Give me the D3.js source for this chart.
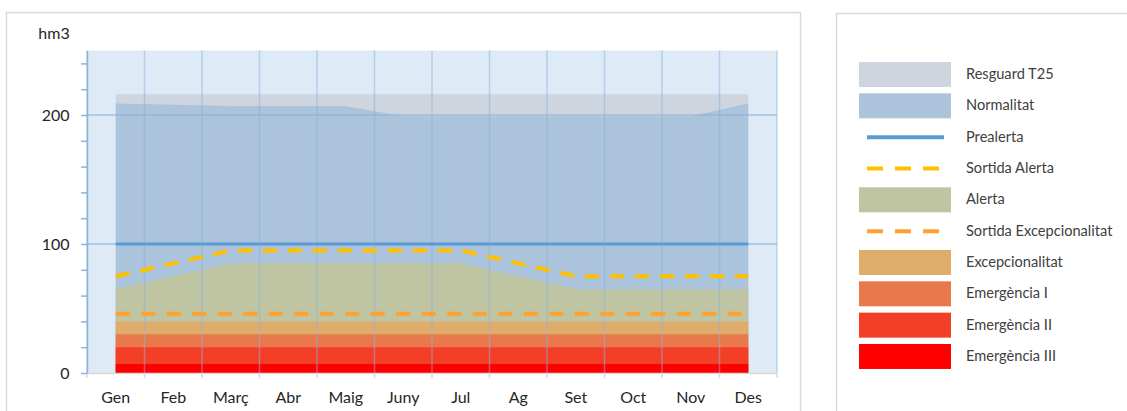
<!DOCTYPE html>
<html><head><meta charset="utf-8">
<script src="https://cdn.jsdelivr.net/npm/d3@7"></script>
<style>body{margin:0;background:#fff}svg{display:block}text{font-family:Lato,"Open Sans",sans-serif}</style>
</head><body><svg id="c" width="1127" height="411"></svg>
<script>
const months = ["Gen","Feb","Març","Abr","Maig","Juny","Jul","Ag","Set","Oct","Nov","Des"];
const resguardT25 = [216,216,216,216,216,216,216,216,216,216,216,216];
const normalitat = [209,208,207,207,207,199,199,199,199,199,199,209];
const prealerta = [100,100,100,100,100,100,100,100,100,100,100,100];
const sortidaAlerta = [75,85,95,95,95,95,95,85,75,75,75,75];
const alerta = [65,75,85,85,85,85,85,75,65,65,65,65];
const sortidaExcepcionalitat = [46,46,46,46,46,46,46,46,46,46,46,46];
const excepcionalitat = [40,40,40,40,40,40,40,40,40,40,40,40];
const emergenciaI = [30,30,30,30,30,30,30,30,30,30,30,30];
const emergenciaII = [20,20,20,20,20,20,20,20,20,20,20,20];
const emergenciaIII = [7,7,7,7,7,7,7,7,7,7,7,7];
const yLabelTicks = [0,100,200];
const yMinorTicks = [0,20,40,60,80,100,120,140,160,180,200,220,240];
const yMax = 250;

const svg = d3.select("#c");
// outer frames
svg.append("rect").attr("x",6.5).attr("y",12.5).attr("width",794).attr("height",430)
  .attr("fill","#fff").attr("stroke","#d9d9d9").attr("stroke-width",1.5);
svg.append("rect").attr("x",836.5).attr("y",13.5).attr("width",330).attr("height",430)
  .attr("fill","#fff").attr("stroke","#d9d9d9").attr("stroke-width",1.5);

const x = d3.scaleBand().domain(months).range([87,777]).padding(0);
const cx = m => x(m) + x.bandwidth()/2;
const y = d3.scaleLinear().domain([0,yMax]).range([373,50.5]);

const g = svg.append("g");
g.append("rect").attr("x",87).attr("y",y(yMax)).attr("width",777-87).attr("height",y(0)-y(yMax)).attr("fill","#deebf7");

const area = d3.area().x((d,i)=>cx(months[i])).y0(y(0)).y1(d=>y(d));
const line = d3.line().x((d,i)=>cx(months[i])).y(d=>y(d));

const areas = [
  [resguardT25,"#cfd5de"],
  [normalitat,"#abc3db"],
  [alerta,"#bfc4a3"],
  [excepcionalitat,"#dfad6b"],
  [emergenciaI,"#e9794c"],
  [emergenciaII,"#f43f27"],
  [emergenciaIII,"#ff0000"]
];
areas.forEach(([d,c])=>g.append("path").datum(d).attr("d",area).attr("fill",c));

// gridlines
const bounds = months.map(m=>x(m)).concat([x.range()[1]]);
g.selectAll(".vg").data(bounds).join("line").attr("class","vg")
  .attr("x1",d=>d).attr("x2",d=>d).attr("y1",y(yMax)).attr("y2",y(0))
  .attr("stroke","#8db3dc").attr("stroke-width",1.5).attr("opacity",0.5);
g.selectAll(".hg").data([100,200]).join("line").attr("class","hg")
  .attr("x1",87).attr("x2",777).attr("y1",d=>y(d)).attr("y2",d=>y(d))
  .attr("stroke","#8db3dc").attr("stroke-width",1.5).attr("opacity",0.75);

// lines
g.append("path").datum(prealerta).attr("d",line).attr("fill","none").attr("stroke","#5b9bd5").attr("stroke-width",3.2);
g.append("path").datum(sortidaAlerta).attr("d",line).attr("fill","none").attr("stroke","#ffc000").attr("stroke-width",4).attr("stroke-dasharray","14,11");
g.append("path").datum(sortidaExcepcionalitat).attr("d",line).attr("fill","none").attr("stroke","#ffa12e").attr("stroke-width",4).attr("stroke-dasharray","14,11.5");

// x axis line and ticks
g.append("line").attr("x1",87).attr("x2",777).attr("y1",y(0)+0.5).attr("y2",y(0)+0.5).attr("stroke","#d9d9d9").attr("stroke-width",1.5);
g.selectAll(".xt").data(bounds).join("line").attr("class","xt")
  .attr("x1",d=>d).attr("x2",d=>d).attr("y1",y(0)).attr("y2",y(0)+5)
  .attr("stroke","#d9d9d9").attr("stroke-width",1.5);
const xAxis = g.append("g").attr("transform",`translate(0,${y(0)})`)
  .call(d3.axisBottom(x).tickSize(0).tickPadding(18.6));
xAxis.select(".domain").remove();
xAxis.selectAll("text").attr("font-size",16).attr("fill","#262626").attr("font-family","Lato, 'Open Sans', sans-serif");

// y axis
const yAxis = g.append("g").attr("transform","translate(87,0)")
  .call(d3.axisLeft(y).tickValues(yMinorTicks).tickSize(6).tickSizeOuter(0).tickPadding(11.5)
    .tickFormat(d=>yLabelTicks.includes(d)?d:""));
yAxis.select(".domain").attr("stroke","#8db3dc").attr("stroke-width",1.5);
yAxis.selectAll("line").attr("stroke","#8db3dc").attr("stroke-width",1.5);
yAxis.selectAll("text").attr("font-size",16).attr("fill","#262626").attr("font-family","Lato, 'Open Sans', sans-serif");

svg.append("text").attr("x",54).attr("y",39).attr("text-anchor","middle")
  .attr("font-size",16).attr("fill","#262626").text("hm3");

// legend
const legendItems = [
  {name:"Resguard T25", type:"area", color:"#cfd5de"},
  {name:"Normalitat", type:"area", color:"#abc3db"},
  {name:"Prealerta", type:"line", color:"#5b9bd5"},
  {name:"Sortida Alerta", type:"dash", color:"#ffc000"},
  {name:"Alerta", type:"area", color:"#bfc4a3"},
  {name:"Sortida Excepcionalitat", type:"dash", color:"#ffa12e"},
  {name:"Excepcionalitat", type:"area", color:"#dfad6b"},
  {name:"Emergència I", type:"area", color:"#e9794c"},
  {name:"Emergència II", type:"area", color:"#f43f27"},
  {name:"Emergència III", type:"area", color:"#ff0000"}
];
const lg = svg.append("g");
legendItems.forEach((it,i)=>{
  const yc = 74.5 + i*31.33;
  if(it.type==="area"){
    lg.append("rect").attr("x",859).attr("y",yc-12.5).attr("width",92).attr("height",25).attr("fill",it.color);
  } else if(it.type==="line"){
    lg.append("line").attr("x1",867).attr("x2",944).attr("y1",yc).attr("y2",yc).attr("stroke",it.color).attr("stroke-width",4);
  } else {
    lg.append("line").attr("x1",867).attr("x2",940).attr("y1",yc).attr("y2",yc).attr("stroke",it.color).attr("stroke-width",4).attr("stroke-dasharray","16,12");
  }
  lg.append("text").attr("x",966).attr("y",yc-1).attr("dominant-baseline","central")
    .attr("font-size",14.6).attr("fill","#404040").text(it.name);
});
</script></body></html>
